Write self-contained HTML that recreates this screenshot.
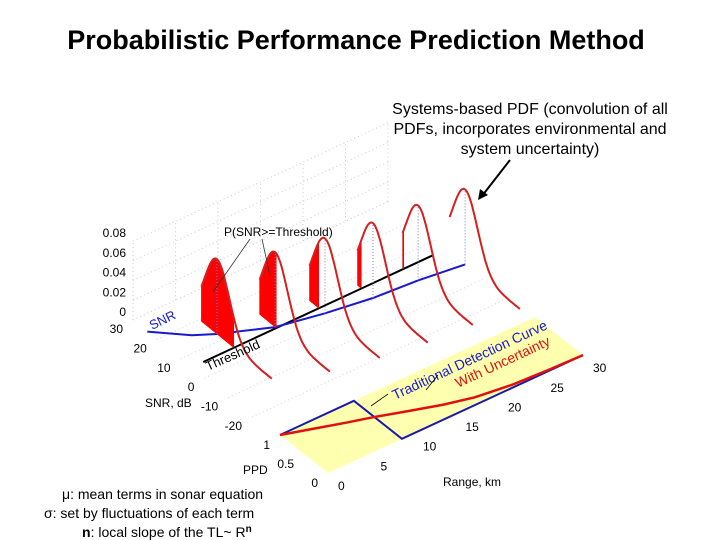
<!DOCTYPE html>
<html><head><meta charset="utf-8"><style>
body{margin:0;background:#fff;}
svg{display:block;font-family:"Liberation Sans",Arial,sans-serif;}
</style></head><body>
<svg id="chart" width="720" height="540" viewBox="0 0 720 540">
<text x="356" y="49" font-size="27" font-weight="bold" text-anchor="middle">Probabilistic Performance Prediction Method</text>
<g font-size="16" text-anchor="middle">
<text x="530" y="114">Systems-based PDF (convolution of all</text>
<text x="530" y="134">PDFs, incorporates environmental and</text>
<text x="530" y="154">system uncertainty)</text>
</g>
<line x1="510" y1="160" x2="482" y2="196" stroke="#000" stroke-width="2"/>
<polygon points="478,200 480,189 488,195" fill="#000"/>
<g id="grid"></g>
<g id="upper"></g>
<g id="lower"></g>
<g id="axes" font-size="12"></g>
<g font-size="14">
<text x="62" y="499">μ: mean terms in sonar equation</text>
<text x="44" y="518">σ: set by fluctuations of each term</text>
<text x="82" y="537"><tspan font-weight="bold">n</tspan>: local slope of the TL~ R<tspan font-weight="bold" font-size="10" dy="-5">n</tspan></text>
</g>
</svg>
<script>
const pdfRanges=[5,10,15,20,25,30];
const pdfMeans=[12.6,6,2.9,0.6,-0.5,-2.4];
const pdfSigma=[5.25,5.25,5.25,5.25,5.25,5.25];
const snrRanges=[0,3,5,10,15,20,25,30];
const snrMeans=[24,16,12.6,6,2.9,0.6,-0.5,-2.4];
const threshold=5.5;
const threshRange=[1.4,28.5];
const tradRanges=[0,8.7,8.7,30];
const tradPPD=[1,1,0,0];
const uncRanges=[0,3,6,8.6,12,15,18,22,26,30];
const uncPPD=[1,0.85,0.7,0.58,0.4,0.25,0.13,0.05,0.02,0];
const zTicks=[0,0.02,0.04,0.06,0.08];
const snrTicks=[30,20,10,0,-10,-20];
const rangeTicks=[0,5,10,15,20,25,30];
const ppdTicks=[0,0.5,1];

const NS='http://www.w3.org/2000/svg';
function mk(tag,attrs,parent,text){const e=document.createElementNS(NS,tag);for(const k in attrs)e.setAttribute(k,attrs[k]);if(text!==undefined)e.textContent=text;parent.appendChild(e);return e;}
function U(r,s,z){return [133+8.5*r+2.38*(30-s), 320-3.95*r+1.94*(30-s)-985*z];}
function L(r,p){return [328+8.5*r-48*p, 473-3.93*r-38*p];}
function pts(a){return a.map(p=>p[0].toFixed(1)+','+p[1].toFixed(1)).join(' ');}
function gauss(s,m,sd){return Math.exp(-0.5*((s-m)/sd)**2)/(sd*Math.sqrt(2*Math.PI));}

const grid=document.getElementById('grid');
for(let r=0;r<=30;r+=5){
  const a=U(r,30,0),b=U(r,30,0.08);
  const ln=mk('line',{x1:a[0],y1:a[1],x2:b[0],y2:b[1],stroke:'#ccc','stroke-dasharray':'1,3'},grid);
  
  
}
zTicks.forEach(z=>{const a=U(0,30,z),b=U(30,30,z);
  const ln=mk('line',{x1:a[0],y1:a[1],x2:b[0],y2:b[1],stroke:'#ccc','stroke-dasharray':'1,3'},grid);
  
  });
snrTicks.forEach(s=>{const a=U(0,s,0),b=U(30,s,0);
  const ln=mk('line',{x1:a[0],y1:a[1],x2:b[0],y2:b[1],stroke:'#d4d4d4','stroke-dasharray':'1,3'},grid);
  
  });

const up=document.getElementById('upper');
{const a=U(threshRange[0],threshold,0),b=U(threshRange[1],threshold,0);
 const ln=mk('line',{x1:a[0],y1:a[1],x2:b[0],y2:b[1],stroke:'#000','stroke-width':2},up);
 
 }
{const p=snrRanges.map((r,i)=>U(r,snrMeans[i],0));
 const pl=mk('polyline',{points:pts(p),fill:'none',stroke:'#1a1acc','stroke-width':2},up);
 
 }
pdfRanges.forEach((r,i)=>{
  const m=pdfMeans[i],sd=pdfSigma[i],s0=m+6.5,s1=m-23;
  const g=mk('g',{},up);
  
  
  if(s0>threshold+0.3){
    const f=[U(r,s0,0)];
    for(let s=s0;s>=threshold;s-=0.25)f.push(U(r,s,gauss(s,m,sd)));
    f.push(U(r,threshold,gauss(threshold,m,sd)));f.push(U(r,threshold,0));
    const pg=mk('polygon',{points:pts(f),fill:'#ff0000',stroke:'#d00','stroke-width':0.5},g);
    
    
  }
  const a=U(r,m,0),b=U(r,m,gauss(m,m,sd));
  const dl=mk('line',{x1:a[0],y1:a[1],x2:b[0],y2:b[1],stroke:'#7a7ad0','stroke-dasharray':'1,2'},g);
  
  
  const c=[];for(let s=s0;s>=s1;s-=0.25)c.push(U(r,s,gauss(s,m,sd)));
  const pl=mk('polyline',{points:pts(c),fill:'none',stroke:'#d42020','stroke-width':2},g);
  
  
});
{const t=mk('text',{x:224,y:236,'font-size':12},up,'P(SNR>=Threshold)');
 
 [[250,239,213,292],[262,239,270,276]].forEach(l=>{const ln=mk('line',{x1:l[0],y1:l[1],x2:l[2],y2:l[3],stroke:'#333','stroke-width':0.8},up);
 });
 const t2=mk('text',{x:152,y:330,'font-size':13,fill:'#1a1acc',transform:'rotate(-26 152 330)'},up,'SNR');
 
 const t3=mk('text',{x:208,y:371,'font-size':13,transform:'rotate(-24 208 371)'},up,'Threshold');
 }

const lo=document.getElementById('lower');
{const q=[L(0,1),L(0,0),L(30,0),L(30,1)];
 const pg=mk('polygon',{points:pts(q),fill:'#ffffb0'},lo);
 
 const b=mk('polyline',{points:pts(tradRanges.map((r,i)=>L(r,tradPPD[i]))),fill:'none',stroke:'#1a1aaa','stroke-width':2},lo);
 
 const rr=mk('polyline',{points:pts(uncRanges.map((r,i)=>L(r,uncPPD[i]))),fill:'none',stroke:'#e01010','stroke-width':2.5},lo);
 
 const t1=mk('text',{x:395,y:400,'font-size':14,fill:'#1a1acc',transform:'rotate(-25 395 400)'},lo,'Traditional Detection Curve');
 
 const t2=mk('text',{x:458,y:388,'font-size':14,fill:'#e01010',transform:'rotate(-25 458 388)'},lo,'With Uncertainty');
 
 [[388,394,371,406],[438,375,426,390]].forEach(l=>{const ln=mk('line',{x1:l[0],y1:l[1],x2:l[2],y2:l[3],stroke:'#000','stroke-width':0.8},lo);
 });}

const ax=document.getElementById('axes');
zTicks.forEach(z=>{const p=U(0,30,z);
 const t=mk('text',{x:126,y:p[1]-4,'text-anchor':'end'},ax,z===0?'0':z.toFixed(2));
 });
snrTicks.forEach(s=>{const p=U(0,s,0);
 const t=mk('text',{x:p[0]-10,y:p[1]+13,'text-anchor':'end'},ax,String(s));
 });
rangeTicks.forEach(r=>{const p=L(r,0);
 const t=mk('text',{x:p[0]+10,y:p[1]+17},ax,String(r));
 });
ppdTicks.forEach(v=>{const p=L(0,v);
 const t=mk('text',{x:p[0]-10,y:p[1]+14,'text-anchor':'end'},ax,String(v));
 });
{const a=mk('text',{x:145,y:407},ax,'SNR, dB');
 const b=mk('text',{x:243,y:474},ax,'PPD');
 const c=mk('text',{x:443,y:486},ax,'Range, km');}
</script>
</body></html>
